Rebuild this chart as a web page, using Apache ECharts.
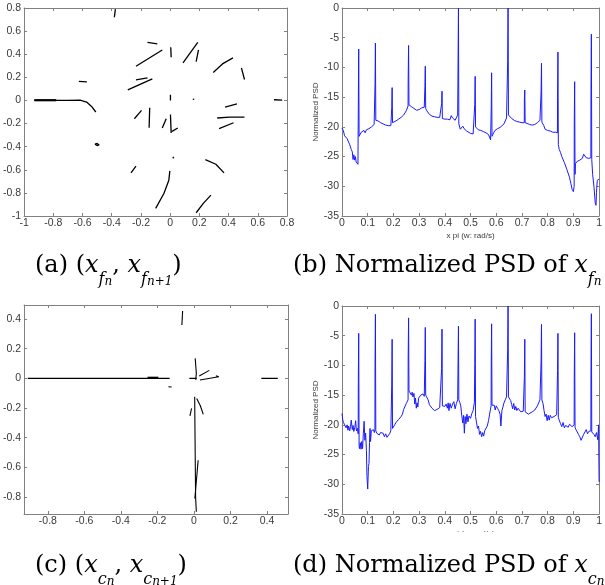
<!DOCTYPE html>
<html><head><meta charset="utf-8">
<script src="https://cdn.jsdelivr.net/npm/echarts@6/dist/echarts.min.js"></script>
<style>html,body{margin:0;padding:0;background:#fff}#c{width:605px;height:585px}</style>
</head><body><div id="c"></div>
<script>
// ---- (a) return map segments (x_n, x_n+1) ----
const segA = [
  [[-0.375,0.79],[-0.382,0.72]],
  [[-0.93,0],[-0.7,0],[-0.617,0.002],[-0.572,-0.014],[-0.538,-0.052],[-0.509,-0.1]],
  [[-0.625,0.165],[-0.57,0.16]],
  [[-0.515,-0.378],[-0.5,-0.372],[-0.486,-0.385],[-0.5,-0.39],[-0.515,-0.378]],
  [[-0.268,-0.627],[-0.234,-0.569]],
  [[-0.245,-0.158],[-0.196,-0.086]],
  [[-0.14,-0.063],[-0.144,-0.236]],
  [[-0.29,0.092],[-0.122,0.187]],
  [[-0.234,0.178],[-0.155,0.196]],
  [[-0.234,0.296],[-0.054,0.437]],
  [[-0.155,0.503],[-0.088,0.489]],
  [[0.004,0.46],[0.007,0.374]],
  [[0.002,0.049],[0.002,0.0]],
  [[0.155,0.012],[0.165,0.01]],
  [[0.002,-0.121],[0.007,-0.282]],
  [[0.01,-0.27],[0.052,-0.239]],
  [[-0.054,-0.239],[-0.027,-0.158]],
  [[0.088,0.325],[0.189,0.503]],
  [[0.178,0.336],[0.194,0.437]],
  [[0.295,0.242],[0.358,0.316],[0.43,0.368]],
  [[0.488,0.282],[0.509,0.181]],
  [[0.711,0.006],[0.767,0.003]],
  [[0.376,-0.058],[0.457,-0.029]],
  [[0.322,-0.152],[0.407,-0.144],[0.509,-0.144]],
  [[0.335,-0.244],[0.434,-0.193]],
  [[0.018,-0.5],[0.025,-0.489]],
  [[0.241,-0.512],[0.313,-0.552],[0.369,-0.627]],
  [[-0.099,-0.934],[-0.043,-0.805],[-0.009,-0.69],[-0.002,-0.61]],
  [[0.178,-0.972],[0.227,-0.891],[0.279,-0.819]]
];
const segAThick = [
  [[-0.93,0.002],[-0.78,0.002]]
];

// ---- (c) return map segments ----
const segC = [
  [[-0.91,0],[-0.133,0]],
  [[-0.14,-0.057],[-0.122,-0.058]],
  [[-0.062,0.455],[-0.066,0.36]],
  [[0.007,0.135],[0.013,0.034],[0.01,-0.01]],
  [[-0.025,0.0],[0.015,0.0]],
  [[0.029,0.016],[0.084,0.054]],
  [[0.033,-0.011],[0.136,0.011],[0.12,0.018]],
  [[0.004,-0.124],[0.009,-0.798],[0.013,-0.9]],
  [[0.023,-0.552],[0.005,-0.81]],
  [[0.015,-0.135],[0.035,-0.185],[0.051,-0.243]],
  [[-0.013,-0.203],[-0.022,-0.253]],
  [[0.369,0],[0.459,0]]
];
const segCThick = [
  [[-0.254,0.004],[-0.195,0.004]]
];

// ---- (b) normalized PSD of x_fn : [x (x pi rad/s), dB] ----
const psdB = [
[0,-20.2],[0.005,-20.6],[0.01,-21.5],[0.015,-21.8],[0.02,-22],[0.025,-22.3],[0.03,-23],[0.033,-22.8],[0.036,-23.8],[0.04,-24.2],[0.043,-25.5],[0.046,-24.7],[0.049,-25.6],[0.052,-25],[0.055,-25.9],[0.058,-25.6],[0.062,-26.3],
[0.0635,-16.8],[0.065,-6.9],[0.0665,-21.6],
[0.07,-21.3],[0.075,-20.9],[0.08,-21.2],[0.085,-20.6],[0.09,-21],[0.095,-20.5],[0.1,-20.8],[0.105,-20.3],[0.11,-20.4],[0.115,-20],[0.12,-20.2],[0.125,-19.6],[0.128,-19.4],
[0.1285,-12.8],[0.13,-5.9],[0.1315,-18.9],
[0.135,-19],[0.14,-19],[0.15,-19.3],[0.16,-19.5],[0.17,-19.7],[0.18,-19.8],[0.19,-19.8],[0.193,-19.6],
[0.1935,-16.8],[0.195,-13.4],[0.1965,-19.3],
[0.2,-19.3],[0.21,-19],[0.22,-18.7],[0.23,-18.4],[0.24,-18],[0.25,-17.3],[0.257,-16.5],
[0.2575,-11.7],[0.259,-6.3],[0.2605,-16.3],
[0.265,-16.5],[0.27,-16.6],[0.28,-16.9],[0.29,-17.2],[0.3,-17.1],[0.31,-16.8],[0.32,-16.7],
[0.3225,-13.2],[0.324,-9.8],[0.3255,-16.9],
[0.33,-17.3],[0.34,-17.9],[0.35,-18.2],[0.36,-18.3],[0.37,-18.4],[0.38,-18.4],[0.387,-18.4],
[0.3875,-16.1],[0.389,-14],[0.3905,-18.6],
[0.395,-18.6],[0.4,-18.7],[0.405,-18.6],[0.41,-18.7],[0.415,-18.4],[0.42,-18.8],[0.425,-18.1],[0.43,-18.5],[0.435,-18.3],[0.44,-18.9],[0.445,-18.6],[0.45,-18],
[0.4515,-8.8],[0.453,0],[0.4545,-19.5],
[0.457,-19.8],[0.46,-20.4],[0.465,-20.6],[0.47,-19.9],[0.475,-20.3],[0.48,-20.1],[0.485,-20.7],[0.49,-20.8],[0.5,-21.1],[0.51,-21.2],[0.516,-21.3],
[0.5165,-16.2],[0.518,-11.5],[0.5195,-20],
[0.525,-20.2],[0.53,-20.5],[0.54,-20.6],[0.55,-20.8],[0.56,-21],[0.57,-21.3],[0.578,-22.2],
[0.5805,-16.8],[0.582,-10.9],[0.5835,-21.6],
[0.59,-21],[0.595,-20.6],[0.6,-20.8],[0.605,-20.3],[0.61,-20.4],[0.615,-20.1],[0.62,-20.2],[0.63,-19.5],[0.64,-18.5],[0.644,-18.2],
[0.6445,-8.8],[0.646,0],[0.6475,-18],
[0.65,-18.2],[0.66,-18.6],[0.67,-18.9],[0.68,-19.1],[0.69,-19.2],[0.7,-19.3],[0.709,-19.3],
[0.7095,-15.3],[0.711,-13.8],[0.7125,-19.3],
[0.72,-19.4],[0.73,-19.6],[0.74,-19.7],[0.75,-19.6],[0.76,-19.3],[0.77,-18.9],[0.774,-18.7],
[0.7745,-14],[0.776,-9.3],[0.7775,-19.2],
[0.785,-19.8],[0.79,-20.4],[0.8,-20.6],[0.81,-20.7],[0.815,-20.6],[0.82,-20.9],[0.83,-20.9],[0.838,-21],
[0.8385,-15.1],[0.84,-7.4],[0.8415,-23],
[0.845,-23.8],[0.85,-24.3],[0.855,-25],[0.86,-25.3],[0.865,-26],[0.87,-26.3],[0.875,-27.2],[0.88,-27.4],[0.885,-28.5],[0.89,-29.5],[0.895,-30.5],[0.9,-30.9],[0.903,-30],
[0.9035,-19.3],[0.905,-12.4],[0.9065,-28],
[0.908,-26.2],[0.915,-25.8],[0.92,-25.7],[0.925,-25.6],[0.93,-25.4],[0.935,-25.3],[0.94,-24.6],[0.945,-24.8],[0.95,-25.2],[0.955,-25],[0.96,-25.3],[0.965,-25.1],[0.968,-25.2],
[0.9685,-15.1],[0.97,-4.4],[0.9715,-25.5],
[0.975,-28],[0.98,-30],[0.985,-32.8],[0.988,-33.2],[0.99,-31],[0.993,-29],[0.996,-28.7],[1.0,-28.8]
];

// ---- (d) normalized PSD of x_cn ----
const psdD = [
[0,-18.1],[0.003,-19.2],[0.006,-19.6],[0.01,-20],[0.013,-19.8],[0.016,-20.5],[0.02,-20],[0.023,-20.9],[0.026,-20.2],[0.03,-21],[0.033,-20.3],[0.036,-19.2],[0.04,-20.8],[0.043,-20.1],[0.046,-21.1],[0.05,-20.4],[0.053,-19.3],[0.056,-21],[0.06,-20.6],[0.063,-21.5],
[0.0635,-12.9],[0.065,-4.6],[0.0665,-23.5],
[0.068,-24],[0.071,-23],[0.074,-24.1],[0.077,-22.8],[0.08,-24],[0.083,-21.5],[0.086,-19.4],[0.089,-22.6],[0.092,-21.4],[0.095,-24.3],[0.097,-28.5],[0.1,-30.8],[0.103,-27],[0.105,-26.5],[0.107,-23],[0.109,-20.6],[0.111,-22.8],[0.114,-21],[0.118,-21.2],[0.122,-20.8],[0.126,-21.3],[0.128,-20.8],
[0.1285,-10.4],[0.13,-1.4],[0.1315,-21],
[0.135,-21.4],[0.14,-21.2],[0.145,-21.7],[0.15,-21.3],[0.155,-21.6],[0.16,-21.4],[0.165,-22],[0.17,-21.5],[0.175,-22.1],[0.18,-21.9],[0.185,-21.5],[0.19,-21],[0.193,-21.3],
[0.1935,-13.3],[0.195,-5.6],[0.1965,-20.6],
[0.2,-20.3],[0.205,-20],[0.21,-19.6],[0.215,-19.8],[0.22,-19.1],[0.225,-19.4],[0.23,-18.6],[0.235,-18.2],[0.24,-17.4],[0.245,-17.7],[0.25,-16.4],[0.255,-16.1],[0.257,-15.8],
[0.2575,-8.4],[0.259,-2],[0.2605,-14.3],
[0.265,-14.6],[0.27,-15],[0.273,-14.5],[0.276,-15.3],[0.28,-14.7],[0.283,-16.5],[0.286,-15.5],[0.289,-17.2],[0.292,-16.3],[0.295,-17],[0.298,-15.5],[0.302,-15.2],[0.306,-15],[0.31,-15.2],[0.315,-14.8],[0.32,-15.2],[0.322,-15],
[0.3225,-9.2],[0.324,-3.6],[0.3255,-15],
[0.33,-15.2],[0.335,-15.8],[0.34,-16.6],[0.345,-16.9],[0.35,-17.2],[0.355,-17.3],[0.36,-17.6],[0.365,-17.6],[0.37,-17.4],[0.375,-17.3],[0.38,-17.1],[0.385,-16.9],[0.387,-16.8],
[0.3875,-10.5],[0.389,-3.9],[0.3905,-16.8],
[0.395,-16.6],[0.4,-16.9],[0.405,-16.5],[0.41,-17.2],[0.413,-16.3],[0.416,-17.6],[0.42,-16.4],[0.425,-17.2],[0.43,-16.5],[0.435,-16.1],[0.44,-17.3],[0.445,-16.4],[0.45,-15.8],
[0.4515,-9.2],[0.453,-3.4],[0.4545,-15.8],
[0.458,-16.2],[0.462,-16.8],[0.466,-18.5],[0.47,-19.7],[0.473,-18.4],[0.476,-21.4],[0.479,-18.6],[0.482,-19.8],[0.486,-18.2],[0.49,-19.5],[0.494,-18.5],[0.5,-18.9],[0.505,-18.1],[0.51,-17.6],[0.515,-16.2],
[0.5165,-9.8],[0.518,-2.2],[0.5195,-18.6],
[0.523,-19.5],[0.527,-20.6],[0.531,-20.2],[0.535,-21.6],[0.539,-21.1],[0.543,-22],[0.547,-21.3],[0.551,-21.9],[0.555,-21],[0.56,-20.7],[0.565,-20.2],[0.57,-19.3],[0.575,-18],[0.58,-16.8],
[0.5805,-10.1],[0.582,-3],[0.5835,-16.7],
[0.588,-17],[0.592,-16.7],[0.596,-17.5],[0.6,-16.8],[0.605,-17.2],[0.61,-17.6],[0.615,-18.2],[0.618,-20.2],[0.622,-17.6],[0.626,-17],[0.63,-16.3],[0.635,-15.8],[0.64,-15.3],[0.644,-15],
[0.6445,-7.1],[0.646,0],[0.6475,-15.3],
[0.652,-15.6],[0.656,-15.9],[0.66,-16.6],[0.664,-17.3],[0.668,-16.4],[0.672,-17.5],[0.676,-16.9],[0.68,-17.6],[0.685,-17.2],[0.69,-17.5],[0.695,-17.8],[0.7,-17.6],[0.705,-17.7],[0.709,-17.5],
[0.7095,-11.8],[0.711,-5.6],[0.7125,-17.8],
[0.72,-18],[0.725,-18.2],[0.73,-18.1],[0.74,-17.8],[0.75,-17.5],[0.76,-16.8],[0.77,-15.8],[0.774,-15.5],
[0.7745,-9.1],[0.776,-3.1],[0.7775,-15.8],
[0.782,-16.4],[0.786,-17.6],[0.79,-18.6],[0.794,-18.2],[0.798,-19.3],[0.802,-18.4],[0.806,-19.2],[0.81,-18.4],[0.815,-18.8],[0.82,-19.1],[0.825,-18.6],[0.83,-18.9],[0.835,-18.3],[0.838,-18.2],
[0.8385,-10.9],[0.84,-4.6],[0.8415,-18.8],
[0.845,-19.2],[0.85,-19.8],[0.855,-20.3],[0.86,-19.6],[0.865,-20.5],[0.87,-20.1],[0.875,-19.8],[0.88,-20.4],[0.885,-19.9],[0.89,-20.1],[0.895,-20.3],[0.903,-20],
[0.9035,-11.8],[0.905,-4.5],[0.9065,-20.4],
[0.91,-20.8],[0.915,-21.2],[0.92,-21.6],[0.925,-22],[0.93,-22.6],[0.935,-22.8],[0.94,-21.6],[0.945,-21.2],[0.95,-20.8],[0.955,-21.5],[0.96,-21.1],[0.965,-21.3],[0.968,-21],
[0.9685,-11.6],[0.97,-1.3],[0.9715,-21.2],
[0.975,-21],[0.98,-21.6],[0.985,-22],[0.99,-21.3],[0.995,-22.5],[0.998,-20],[1.0,-29.6]
];

// ---- tick values for (c) ----
const ticksCX = [-0.8,-0.6,-0.4,-0.2,0,0.2,0.4];
const ticksCY = [-0.8,-0.6,-0.4,-0.2,0,0.2,0.4];

// ---- captions ----
const capA = '{m|(a) (}{i|x}{s|f}{ss|n}{m|, }{i|x}{s|f}{ss|n+1}{m|)}';
const capB = '{m|(b) Normalized PSD of }{i|x}{s|f}{ss|n}';
const capC = '{m|(c) (}{i|x}{s|c}{ss|n}{m|, }{i|x}{s|c}{ss|n+1}{m|)}';
const capD = '{m|(d) Normalized PSD of }{i|x}{s|c}{ss|n}';
const psdYName = 'Normalized PSD';
const psdXName = 'x pi (w: rad/s)';

const chart = echarts.init(document.getElementById('c'), null, {renderer:'canvas'});
const AX = '#808080';
const FONT = 'Liberation Sans, Arial, sans-serif';
function fmt(v){ return String(+(+v).toFixed(2)); }

function ax(grid, min, max, interval, pos, showLabel, custom, extra) {
  const isX = (pos === 'bottom' || pos === 'top');
  const a = {type:'value', gridIndex:grid, min:min, max:max, position:pos, scale:false,
    axisLine:{show:true, onZero:false, lineStyle:{color:AX, width:1}},
    axisTick:{show:true, inside:true, length:3, lineStyle:{color:AX, width:1}},
    axisLabel:{show:showLabel, margin:isX ? 2 : 3, formatter:fmt, color:'#3a3a3a', fontSize:10.5, fontFamily:FONT},
    splitLine:{show:false}};
  if (interval) a.interval = interval;
  if (custom) { a.splitNumber = 7; a.axisTick.customValues = custom; a.axisLabel.customValues = custom; }
  return Object.assign(a, extra||{});
}

const grids = [
  {left:21, top:8, width:266, height:208},
  {left:342, top:8, width:262, height:208},
  {left:22, top:305, width:266, height:209},
  {left:342, top:306, width:262, height:208}
];

const nameX = {name:psdXName, nameLocation:'middle', nameGap:16, nameTextStyle:{color:'#3a3a3a', fontSize:8, fontFamily:FONT}};
const nameY = {name:psdYName, nameLocation:'middle', nameGap:21, nameTextStyle:{color:'#3a3a3a', fontSize:8, fontFamily:FONT}};

const xAxes = [
  ax(0,-1,0.8,0.2,'bottom',true), ax(0,-1,0.8,0.2,'top',false),
  ax(1,0,1,0.1,'bottom',true,null,nameX), ax(1,0,1,0.1,'top',false),
  ax(2,-0.93,0.515,null,'bottom',true,ticksCX), ax(2,-0.93,0.515,null,'top',false,ticksCX),
  ax(3,0,1,0.1,'bottom',true,null,nameX), ax(3,0,1,0.1,'top',false)
];
const yAxes = [
  ax(0,-1,0.8,0.2,'left',true), ax(0,-1,0.8,0.2,'right',false),
  ax(1,-35,0,5,'left',true,null,nameY), ax(1,-35,0,5,'right',false),
  ax(2,-0.915,0.495,null,'left',true,ticksCY), ax(2,-0.915,0.495,null,'right',false,ticksCY),
  ax(3,-35,0,5,'left',true,null,nameY), ax(3,-35,0,5,'right',false)
];

const series = [];
function addSegs(segs, axisIdx, width) {
  segs.forEach(function(s){
    series.push({type:'line', xAxisIndex:axisIdx, yAxisIndex:axisIdx, data:s, symbol:'none', showSymbol:false,
      silent:true, animation:false, lineStyle:{color:'#000', width:width}, clip:true});
  });
}
addSegs(segA, 0, 1.3);
addSegs(segAThick, 0, 2.2);
addSegs(segC, 4, 1.1);
addSegs(segCThick, 4, 2.2);
series.push({type:'line', xAxisIndex:2, yAxisIndex:2, data:psdB, symbol:'none', showSymbol:false, silent:true, animation:false,
  lineStyle:{color:'#1a1aff', width:1}, clip:true});
series.push({type:'line', xAxisIndex:6, yAxisIndex:6, data:psdD, symbol:'none', showSymbol:false, silent:true, animation:false,
  lineStyle:{color:'#1a1aff', width:1}, clip:true});

const SERIF = 'DejaVu Serif';
const rich = {
  m:{fontFamily:SERIF, fontSize:24, lineHeight:44, verticalAlign:'middle', color:'#000'},
  i:{fontFamily:SERIF, fontSize:24, fontStyle:'italic', lineHeight:44, verticalAlign:'middle', color:'#000'},
  s:{fontFamily:SERIF, fontSize:16, fontStyle:'italic', lineHeight:26, verticalAlign:'bottom', color:'#000'},
  ss:{fontFamily:SERIF, fontSize:12, fontStyle:'italic', lineHeight:12, verticalAlign:'bottom', color:'#000'}
};
function cap(x, y, t) {
  return {type:'text', left:x, top:y, z:100, style:{text:t, rich:rich, fill:'#000'}};
}

chart.setOption({
  animation:false,
  backgroundColor:'#fff',
  grid:grids,
  xAxis:xAxes,
  yAxis:yAxes,
  series:series,
  graphic:[
    {type:'rect', left:330, top:532, z:100, shape:{width:275, height:20}, style:{fill:'#fff'}},
    cap(35, 254, capA),
    cap(293, 254, capB),
    cap(35, 554, capC),
    cap(293, 554, capD)
  ]
});
</script></body></html>
